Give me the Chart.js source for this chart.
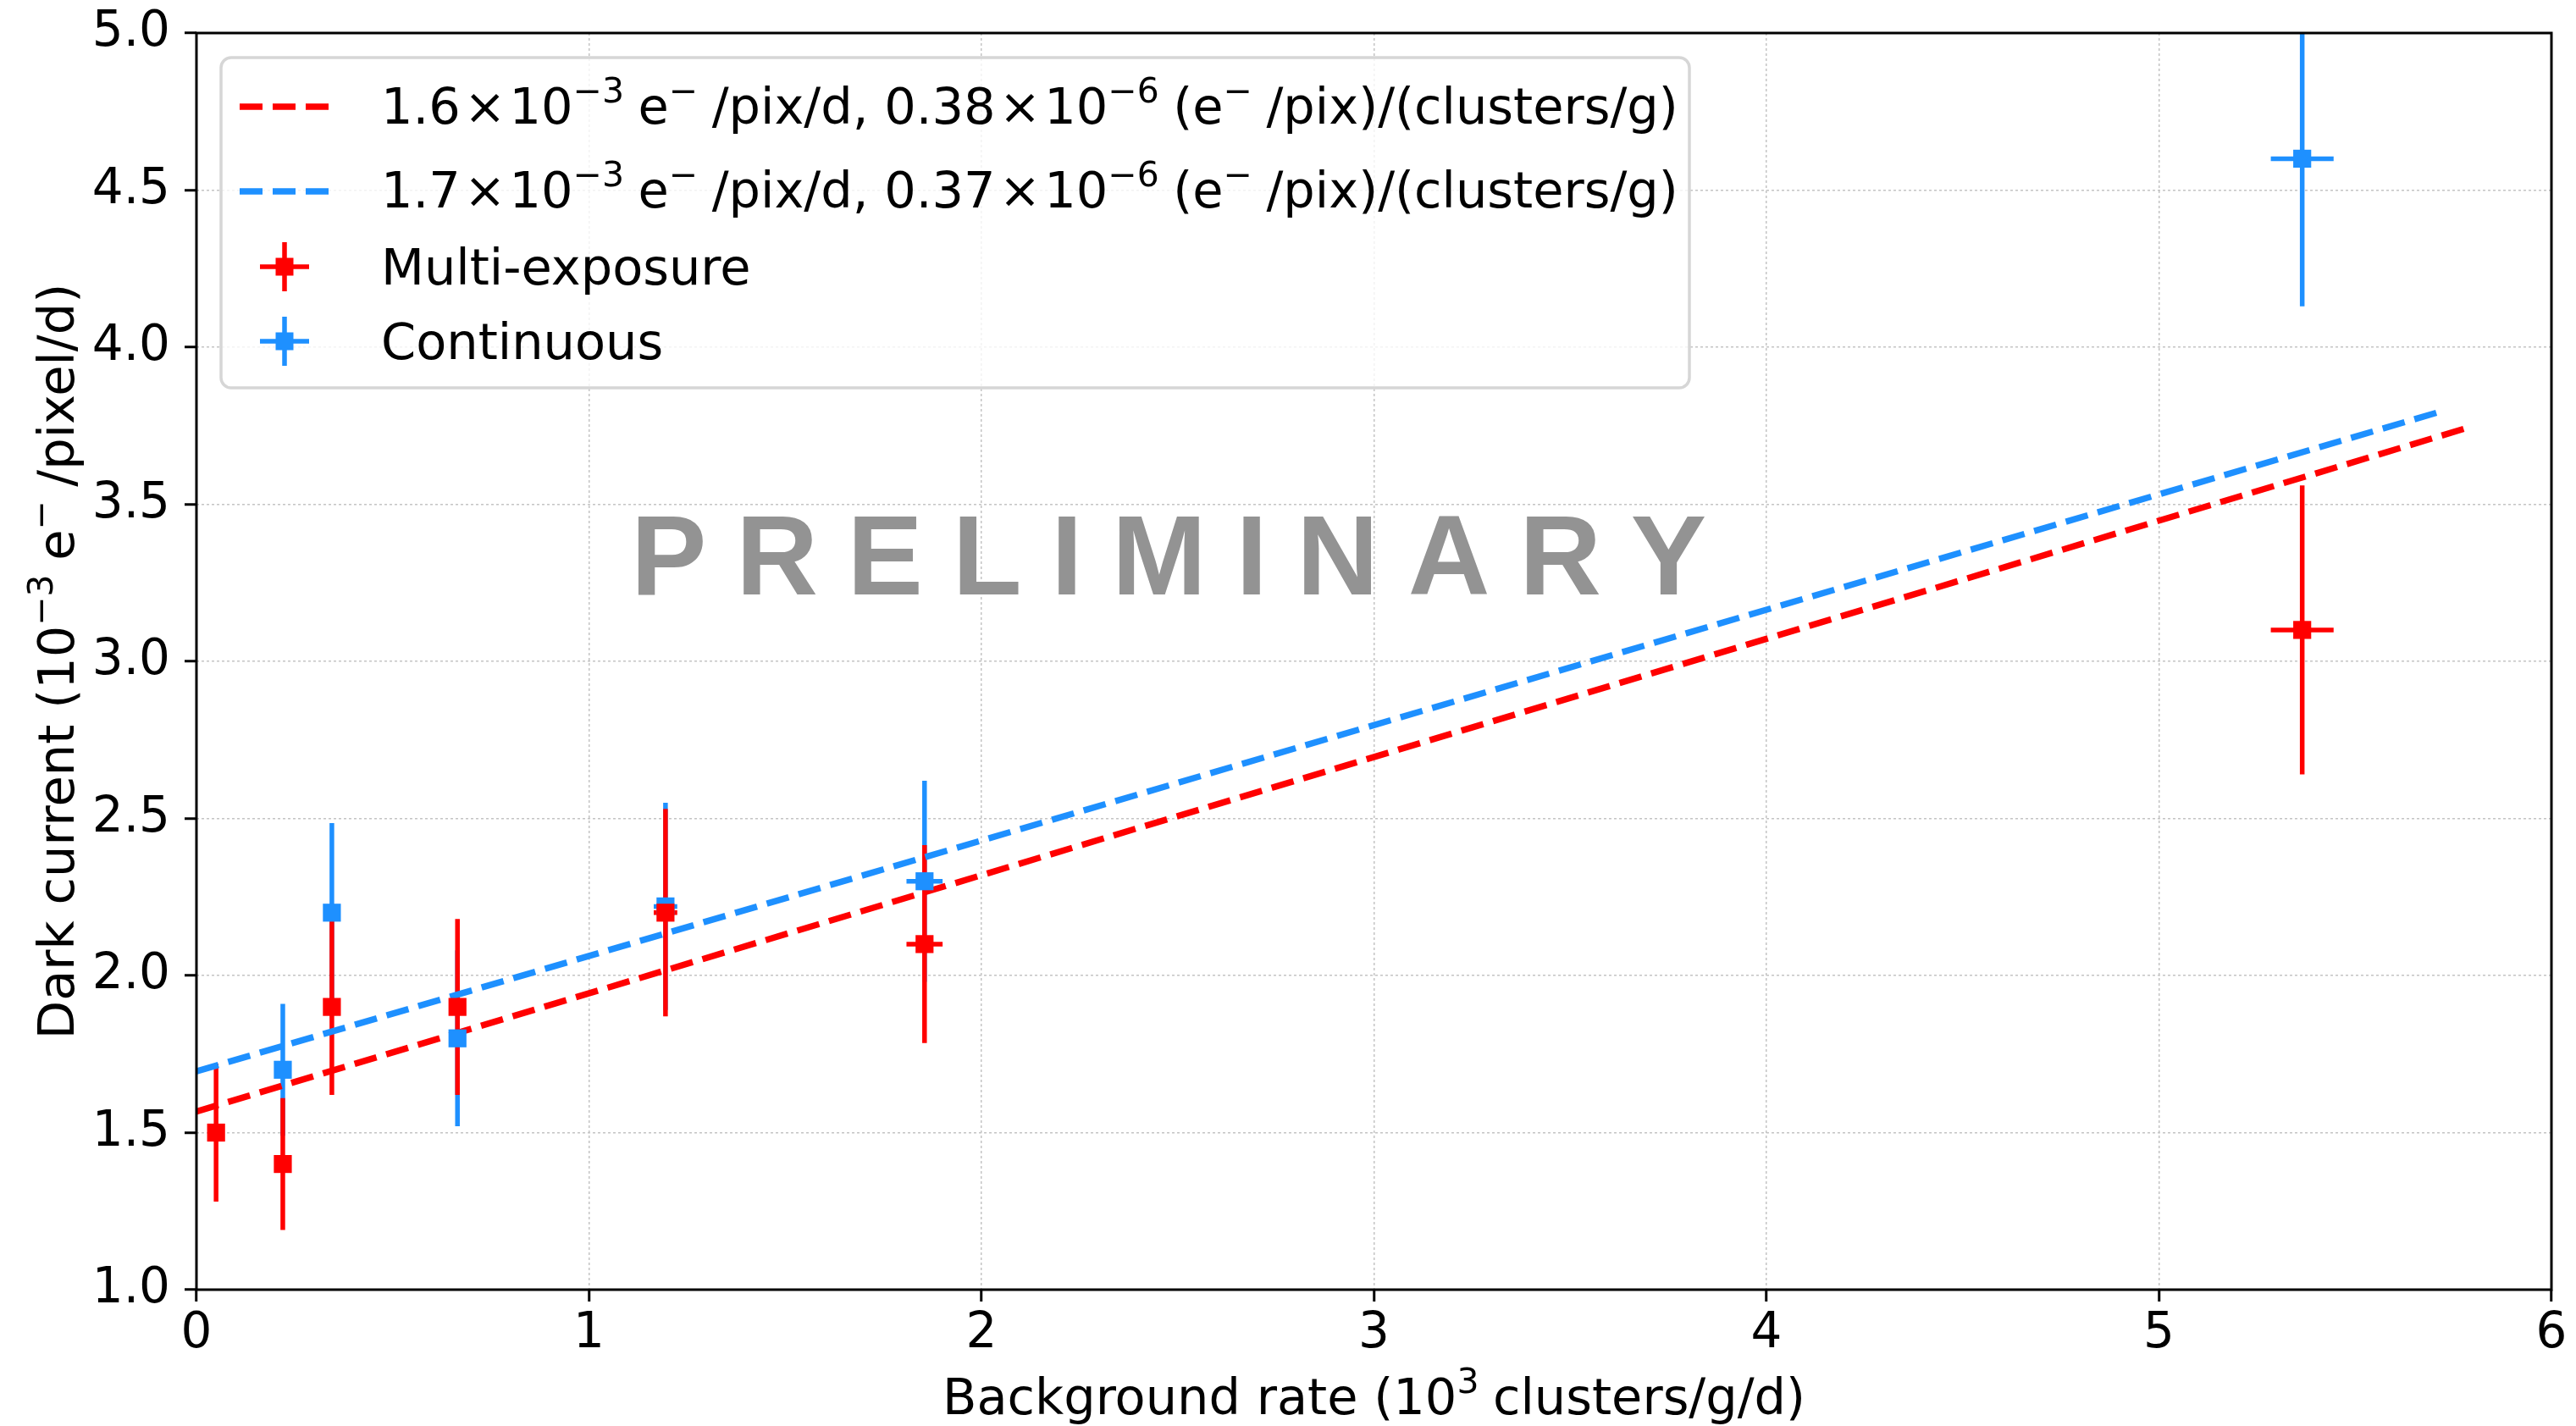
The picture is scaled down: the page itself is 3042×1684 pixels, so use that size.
<!DOCTYPE html>
<html>
<head>
<meta charset="utf-8">
<script src="https://cdn.jsdelivr.net/npm/chart.js@4.4.1/dist/chart.umd.min.js"></script>
<style>
  html, body { margin: 0; padding: 0; background: #fff; }
  #wrap { width: 3042px; height: 1684px; }
</style>
</head>
<body>
<div id="wrap"><canvas id="darkChart" width="3042" height="1684"></canvas></div>
<script>
// Multi-exposure points (x in 10^3 clusters/g/d, y in 10^-3 e-/pixel/d)
const multiX = [0.05, 0.22, 0.345, 0.665, 1.195, 1.855, 5.365];
const multiY = [1.50, 1.40, 1.90, 1.90, 2.20, 2.10, 3.10];
const multiXErr = [0.003, 0.005, 0.008, 0.015, 0.03, 0.046, 0.08];
const multiYErr = [0.22, 0.21, 0.28, 0.28, 0.33, 0.315, 0.46];

// Continuous points
const contX = [0.22, 0.345, 0.665, 1.195, 1.855, 5.365];
const contY = [1.70, 2.20, 1.80, 2.22, 2.30, 4.60];
const contXErr = [0.005, 0.008, 0.015, 0.03, 0.046, 0.08];
const contYErr = [0.21, 0.285, 0.28, 0.33, 0.32, 0.47];

// fitted lines (end points)
const fitMultiX = [0, 5.79];
const fitMultiY = [1.567, 3.745];
const fitContX = [0, 5.72];
const fitContY = [1.695, 3.796];

const xTicks = [0, 1, 2, 3, 4, 5, 6];
const yTicks = [1.0, 1.5, 2.0, 2.5, 3.0, 3.5, 4.0, 4.5, 5.0];

const RED = '#ff0000';
const BLUE = '#1e90ff';
const FONT = "'DejaVu Sans', sans-serif";
const FS = 58;   // tick labels
const TS = 59;   // titles and legend

const toPoints = (xs, ys) => xs.map((x, i) => ({ x: x, y: ys[i] }));

// text with superscripts: segs = [[text, kind], ...], kind: 'sup' | 'op' | ''
function segSize(kind, size) { return kind === 'sup' ? Math.round(size * 0.7) : size; }
function segPad(kind, size) {
    if (kind === 'sup') return [0, size * 0.28];
    if (kind === 'op') return [size * 0.07, size * 0.07];
    return [0, 0];
}
function richWidth(ctx, segs, size) {
    let w = 0;
    segs.forEach(([t, kind]) => {
        ctx.font = segSize(kind, size) + 'px ' + FONT;
        const p = segPad(kind, size);
        w += p[0] + ctx.measureText(t).width + p[1];
    });
    return w;
}
function drawRich(ctx, segs, x, y, size, align) {
    let cx = x;
    if (align === 'center') cx = x - richWidth(ctx, segs, size) / 2;
    ctx.textBaseline = 'alphabetic';
    ctx.textAlign = 'left';
    segs.forEach(([t, kind]) => {
        ctx.font = segSize(kind, size) + 'px ' + FONT;
        const p = segPad(kind, size);
        cx += p[0];
        ctx.fillText(t, cx, kind === 'sup' ? y - size * 0.42 : y);
        cx += ctx.measureText(t).width + p[1];
    });
}

const errorBars = {
    id: 'errorBars',
    beforeDatasetsDraw(chart) {
        const { ctx, chartArea, scales: { x, y } } = chart;
        ctx.save();
        ctx.beginPath();
        ctx.rect(chartArea.left, chartArea.top, chartArea.width, chartArea.height);
        ctx.clip();
        ctx.lineWidth = 5.5;
        // blue first so red bars sit on top
        chart.data.datasets.filter(ds => ds.yErr).reverse().forEach(ds => {
            ctx.strokeStyle = ds.backgroundColor;
            ds.data.forEach((p, i) => {
                const px = x.getPixelForValue(p.x);
                const py = y.getPixelForValue(p.y);
                ctx.beginPath();
                ctx.moveTo(px, y.getPixelForValue(p.y - ds.yErr[i]));
                ctx.lineTo(px, y.getPixelForValue(p.y + ds.yErr[i]));
                ctx.moveTo(x.getPixelForValue(p.x - ds.xErr[i]), py);
                ctx.lineTo(x.getPixelForValue(p.x + ds.xErr[i]), py);
                ctx.stroke();
            });
        });
        ctx.restore();
    }
};

const decorations = {
    id: 'decorations',
    afterDatasetsDraw(chart) {
        const { ctx, chartArea: a, scales: { x, y } } = chart;
        ctx.save();
        // watermark
        const word = 'PRELIMINARY';
        ctx.font = "bold 134px 'Liberation Sans', Arial, sans-serif";
        ctx.fillStyle = '#939393';
        ctx.textBaseline = 'alphabetic';
        ctx.textAlign = 'left';
        const widths = [...word].map(c => ctx.measureText(c).width);
        const total = 1270;
        const gap = (total - widths.reduce((s, w) => s + w, 0)) / (word.length - 1);
        let cx = x.getPixelForValue(2.477) - total / 2;
        const by = y.getPixelForValue(3.213);
        [...word].forEach((c, i) => {
            ctx.fillText(c, cx, by);
            cx += widths[i] + gap;
        });
        // frame
        ctx.strokeStyle = '#000';
        ctx.lineWidth = 3;
        ctx.strokeRect(a.left, a.top, a.right - a.left, a.bottom - a.top);
        ctx.restore();
    },
    afterDraw(chart) {
        const { ctx, chartArea: a } = chart;
        ctx.save();
        ctx.fillStyle = '#000';
        // axis titles
        drawRich(ctx, [['Background rate (10', ''], ['3', 'sup'], ['clusters/g/d)', '']],
            (a.left + a.right) / 2, 1670, TS, 'center');
        ctx.save();
        ctx.translate(87, (a.top + a.bottom) / 2);
        ctx.rotate(-Math.PI / 2);
        drawRich(ctx, [['Dark current (10', ''], ['\u22123', 'sup'], ['e', ''], ['\u2212', 'sup'], ['/pixel/d)', '']],
            0, 0, TS, 'center');
        ctx.restore();

        // legend box
        const bx = 261, bw = 1734, byy = 68, bh = 390;
        ctx.beginPath();
        ctx.roundRect(bx, byy, bw, bh, 12);
        ctx.fillStyle = 'rgba(255,255,255,0.8)';
        ctx.fill();
        ctx.strokeStyle = '#d6d6d6';
        ctx.lineWidth = 3.5;
        ctx.stroke();

        const hx0 = 283, hx1 = 389, hc = 336, tx = 450;
        const fitLabel = (a0, b0) => [
            [a0, ''], ['\u00d7', 'op'], ['10', ''], ['\u22123', 'sup'], ['e', ''], ['\u2212', 'sup'],
            ['/pix/d, ' + b0, ''], ['\u00d7', 'op'], ['10', ''], ['\u22126', 'sup'], ['(e', ''], ['\u2212', 'sup'],
            ['/pix)/(clusters/g)', '']
        ];
        const lines = [
            { color: RED, y: 126, base: 146, segs: fitLabel('1.6', '0.38') },
            { color: BLUE, y: 226, base: 245, segs: fitLabel('1.7', '0.37') }
        ];
        lines.forEach(l => {
            ctx.strokeStyle = l.color;
            ctx.lineWidth = 7.5;
            ctx.setLineDash([27, 12]);
            ctx.beginPath();
            ctx.moveTo(hx0, l.y);
            ctx.lineTo(hx1, l.y);
            ctx.stroke();
            ctx.setLineDash([]);
            ctx.fillStyle = '#000';
            drawRich(ctx, l.segs, tx, l.base, TS, 'left');
        });
        const marks = [
            { color: RED, y: 315, base: 336, text: 'Multi-exposure' },
            { color: BLUE, y: 403, base: 424, text: 'Continuous' }
        ];
        marks.forEach(m => {
            ctx.strokeStyle = m.color;
            ctx.fillStyle = m.color;
            ctx.lineWidth = 5.5;
            ctx.beginPath();
            ctx.moveTo(hc, m.y - 29);
            ctx.lineTo(hc, m.y + 29);
            ctx.moveTo(hc - 29, m.y);
            ctx.lineTo(hc + 29, m.y);
            ctx.stroke();
            ctx.fillRect(hc - 10.5, m.y - 10.5, 21, 21);
            ctx.fillStyle = '#000';
            drawRich(ctx, [[m.text, '']], tx, m.base, TS, 'left');
        });
        ctx.restore();
    }
};

const gridOpts = {
    color: '#c4c4c4',
    lineWidth: 1.5,
    tickLength: 14,
    tickColor: '#000',
    tickWidth: 3
};

new Chart(document.getElementById('darkChart'), {
    type: 'scatter',
    data: {
        datasets: [
            {
                label: 'Multi-exposure',
                data: toPoints(multiX, multiY),
                xErr: multiXErr,
                yErr: multiYErr,
                backgroundColor: RED,
                borderColor: RED,
                pointStyle: 'rect',
                pointRadius: 15,
                pointBorderWidth: 0,
                order: 0
            },
            {
                label: 'Continuous',
                data: toPoints(contX, contY),
                xErr: contXErr,
                yErr: contYErr,
                backgroundColor: BLUE,
                borderColor: BLUE,
                pointStyle: 'rect',
                pointRadius: 15,
                pointBorderWidth: 0,
                order: 1
            },
            {
                type: 'line',
                label: 'fit multi',
                data: toPoints(fitMultiX, fitMultiY),
                borderColor: RED,
                backgroundColor: RED,
                borderWidth: 7.5,
                borderDash: [27, 12],
                pointRadius: 0,
                fill: false,
                order: 2
            },
            {
                type: 'line',
                label: 'fit continuous',
                data: toPoints(fitContX, fitContY),
                borderColor: BLUE,
                backgroundColor: BLUE,
                borderWidth: 7.5,
                borderDash: [27, 12],
                pointRadius: 0,
                fill: false,
                order: 3
            }
        ]
    },
    options: {
        responsive: false,
        animation: false,
        devicePixelRatio: 1,
        layout: { padding: { top: 39, right: 29, left: 0, bottom: 0 } },
        plugins: {
            legend: { display: false },
            tooltip: { enabled: false }
        },
        scales: {
            x: {
                type: 'linear',
                min: 0,
                max: 6,
                afterFit: (s) => { s.height = 161; s.paddingLeft = 0; s.paddingRight = 0; },
                afterBuildTicks: (s) => { s.ticks = xTicks.map(v => ({ value: v })); },
                ticks: {
                    color: '#000',
                    font: { family: FONT, size: FS },
                    padding: 4,
                    maxRotation: 0,
                    callback: (v) => String(v)
                },
                grid: gridOpts,
                border: { display: false, dash: [3, 3] }
            },
            y: {
                type: 'linear',
                min: 1,
                max: 5,
                afterFit: (s) => { s.width = 232; s.paddingTop = 0; s.paddingBottom = 0; },
                afterBuildTicks: (s) => { s.ticks = yTicks.map(v => ({ value: v })); },
                ticks: {
                    color: '#000',
                    font: { family: FONT, size: FS },
                    padding: 17,
                    callback: (v) => Number(v).toFixed(1)
                },
                grid: gridOpts,
                border: { display: false, dash: [3, 3] }
            }
        }
    },
    plugins: [errorBars, decorations]
});
</script>
</body>
</html>
